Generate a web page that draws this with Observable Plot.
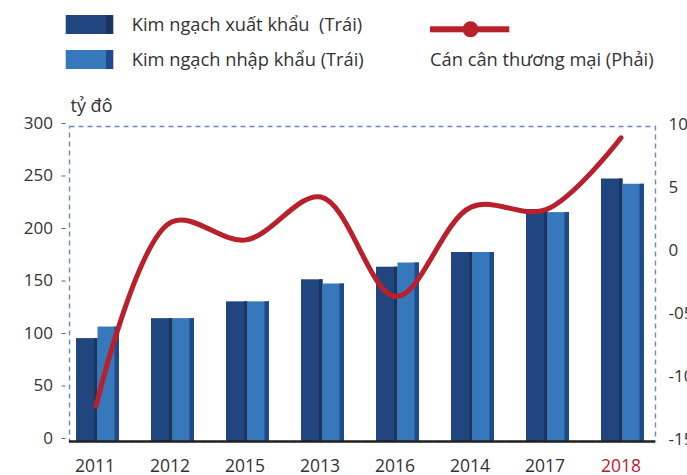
<!DOCTYPE html>
<html><head><meta charset="utf-8">
<script src="https://cdn.jsdelivr.net/npm/d3@7"></script>
<script src="https://cdn.jsdelivr.net/npm/@observablehq/plot@0.6"></script>
<style>
body{margin:0;background:#fff;overflow:hidden;font-family:"Open Sans",sans-serif;}
#wrap{position:relative;width:687px;height:475px;overflow:hidden;}
#legend{position:absolute;left:0;top:0;}
#chart{position:absolute;left:0;top:90px;}
</style></head><body>
<div id="wrap">
 <div id="legend"></div>
 <div id="chart"></div>
</div>
<script>
const years = ["2011","2012","2015","2013","2016","2014","2017","2018"];
const exportVals = [98,117,133,154,166,180,221,250];
const importVals = [109,117,133,150,170,180,218,245];
const balanceVals = [-12.2,2.4,1.0,4.4,-3.5,3.6,3.4,9.1];
const leftTicks = [0,50,100,150,200,250,300];
const rightTickVals = [-15,-10,-5,0,5,10];
const rightTickLabels = ["-15","-10","-05","0","5","10"];
const seriesNames = ["Kim ngạch xuất khẩu  (Trái)","Kim ngạch nhập khẩu (Trái)","Cán cân thương mại (Phải)"];
const unitLabel = "tỷ đô";
const highlightYear = "2018";

const C = {ex:"#21467f", exSide:"#1b3563", im:"#3777bc", imSide:"#1f4b8a", bal:"#b8202b", text:"#333"};

// legend (SVG drawn with d3)
const lsvg = d3.select("#legend").append("svg").attr("width",687).attr("height",90)
  .style("font-family","'Open Sans', sans-serif").style("display","block");
[[C.ex, C.exSide, 15, seriesNames[0], 31], [C.im, C.imSide, 50, seriesNames[1], 65.7]].forEach(([f, s, y, t, b]) => {
  lsvg.append("rect").attr("x",65.7).attr("y",y).attr("width",40.3).attr("height",19).attr("fill",f);
  lsvg.append("rect").attr("x",106).attr("y",y).attr("width",7.3).attr("height",19).attr("fill",s);
  lsvg.append("text").attr("x",131.7).attr("y",b).attr("font-size",18.3).attr("fill",C.text).style("white-space","pre").attr("xml:space","preserve").text(t);
});
lsvg.append("rect").attr("x",430).attr("y",26.3).attr("width",79.3).attr("height",6).attr("fill",C.bal);
lsvg.append("circle").attr("cx",470.5).attr("cy",29.3).attr("r",8).attr("fill",C.bal);
lsvg.append("text").attr("x",430).attr("y",66).attr("font-size",18.3).attr("fill",C.text).text(seriesNames[2]);

const rows = years.map((y,i)=>({year:y, ex:exportVals[i], im:importVals[i], bal:balanceVals[i]}));
const toLeft = v => (v + 15) * 300 / 25;
const rightLabelMap = new Map(rightTickVals.map((v,i)=>[toLeft(v), rightTickLabels[i]]));

const chart = Plot.plot({
  width:687, height:385,
  marginLeft:69, marginRight:32, marginTop:36, marginBottom:34,
  x:{domain:years, range:[60,660], padding:0, axis:null},
  y:{domain:[0,300], axis:null},
  style:{fontFamily:"Open Sans", fontSize:"17px", color:C.text, background:"transparent", overflow:"visible"},
  marks:[
    Plot.frame({stroke:"#6a88bd", strokeDasharray:"5,4", strokeWidth:1.4}),
    Plot.barY(rows,{x:"year", y:"ex", fill:C.ex, insetLeft:16, insetRight:37.5}),
    Plot.barY(rows,{x:"year", y:"ex", fill:C.exSide, insetLeft:34, insetRight:37.5}),
    Plot.barY(rows,{x:"year", y:"im", fill:C.im, insetLeft:37.5, insetRight:16}),
    Plot.barY(rows,{x:"year", y:"im", fill:C.imSide, insetLeft:54.5, insetRight:16}),
    Plot.ruleY([0],{stroke:"#222", strokeWidth:2.5}),
    Plot.line(rows,{x:"year", y:d=>toLeft(d.bal), stroke:C.bal, strokeWidth:5, curve:"catmull-rom", dx:-2}),
    Plot.axisY({anchor:"left", ticks:leftTicks, tickSize:4, tickPadding:9, dx:-3.5, dy:-3, stroke:"#666", fill:C.text, fontSize:17}),
    Plot.axisY(rightTickVals.map(toLeft), {anchor:"right", tickSize:0, tickPadding:13, dy:-2, fill:C.text, fontSize:17, tickFormat:d=>rightLabelMap.get(d)}),
    Plot.text(years.filter(y=>y!==highlightYear), {x:d=>d, frameAnchor:"bottom", lineAnchor:"bottom", dy:30.5, dx:-3, fill:C.text, fontSize:17.5}),
    Plot.text(years.filter(y=>y===highlightYear), {x:d=>d, frameAnchor:"bottom", lineAnchor:"bottom", dy:30.5, dx:-2, fill:C.bal, fontSize:17.5}),
    Plot.text([unitLabel], {frameAnchor:"top-left", textAnchor:"start", lineAnchor:"bottom", dy:-14.5, dx:1, fill:C.text, fontSize:18})
  ]
});
document.getElementById("chart").appendChild(chart);
</script>
</body></html>
